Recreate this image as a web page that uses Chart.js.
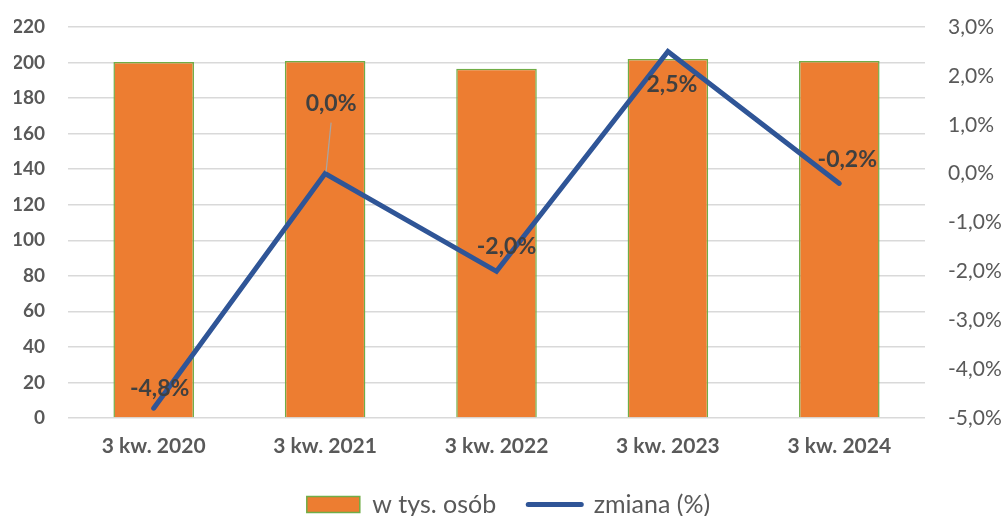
<!DOCTYPE html>
<html>
<head>
<meta charset="utf-8">
<script src="https://cdn.jsdelivr.net/npm/chart.js@4/dist/chart.umd.min.js"></script>
<style>
  html, body { margin: 0; padding: 0; background: #fff; }
  #wrap { width: 1003px; height: 516px; }
</style>
</head>
<body>
<div id="wrap"><canvas id="chart"></canvas></div>
<script>
const CATEGORIES = ['3 kw. 2020', '3 kw. 2021', '3 kw. 2022', '3 kw. 2023', '3 kw. 2024'];
const PEOPLE = [200.3, 200.9, 196.5, 202.0, 200.9];   // w tys. osób
const CHANGE = [-4.8, 0.0, -2.0, 2.5, -0.2];          // zmiana (%)

const ORANGE = '#ED7D31';
const GREEN = '#70AD47';
const BLUE = '#2F5597';
const TXT = '#595959';
const FONT = 'Lato, "Open Sans", sans-serif';

const fmtPct = (v) => v.toFixed(1).replace('.', ',') + '%';

// label placement relative to each line point (px); the second one gets a leader line
const LABEL_SHIFT = [[6, -21], [6, -71], [10, -26], [4, 32], [8, -25]];

const lineLabels = {
  id: 'lineLabels',
  afterDatasetsDraw(chart) {
    const meta = chart.getDatasetMeta(1);
    const ctx = chart.ctx;
    ctx.save();
    ctx.font = 'bold 23px ' + FONT;
    ctx.textAlign = 'center';
    ctx.textBaseline = 'middle';
    meta.data.forEach((pt, i) => {
      const [dx, dy] = LABEL_SHIFT[i];
      const x = pt.x + dx, y = pt.y + dy;
      if (Math.abs(dy) > 40) {
        ctx.strokeStyle = '#A6A6A6';
        ctx.lineWidth = 1.2;
        ctx.beginPath();
        ctx.moveTo(x, y + 20);
        ctx.lineTo(pt.x + 1, pt.y - 2);
        ctx.stroke();
      }
      ctx.fillStyle = '#404040';
      ctx.fillText(fmtPct(CHANGE[i]), x, y + 1);
    });
    ctx.restore();
  },
};

// invisible tick marks just to push labels away from the plot
const hiddenTicks = { drawTicks: true, tickLength: 23, tickColor: 'rgba(0,0,0,0)' };

new Chart(document.getElementById('chart').getContext('2d'), {
  type: 'bar',
  data: {
    labels: CATEGORIES,
    datasets: [
      {
        label: 'w tys. osób',
        data: PEOPLE,
        backgroundColor: ORANGE,
        borderColor: GREEN,
        borderWidth: 1.5,
        barPercentage: 0.47,
        categoryPercentage: 1,
        yAxisID: 'y',
        order: 2,
      },
      {
        type: 'line',
        label: 'zmiana (%)',
        data: CHANGE,
        borderColor: BLUE,
        backgroundColor: BLUE,
        borderWidth: 5,
        borderCapStyle: 'round',
        borderJoinStyle: 'miter',
        pointRadius: 0,
        tension: 0,
        yAxisID: 'y1',
        order: 1,
      },
    ],
  },
  options: {
    responsive: true,
    maintainAspectRatio: false,
    animation: false,
    layout: { padding: { top: 27, left: 14, right: 0, bottom: -11 } },
    plugins: {
      tooltip: { enabled: false },
      legend: {
        display: true,
        position: 'bottom',
        labels: {
          color: TXT,
          font: { family: FONT, size: 25 },
          usePointStyle: true,
          pointStyleWidth: 53,
          boxHeight: 16,
          padding: 32,
          generateLabels(chart) {
            const items = Chart.defaults.plugins.legend.labels.generateLabels(chart);
            items.sort((a, b) => a.datasetIndex - b.datasetIndex);
            items.forEach((it) => {
              if (it.datasetIndex === 0) {
                it.pointStyle = 'rect';
                it.lineWidth = 1.5;
              } else {
                it.pointStyle = 'line';
                it.lineWidth = 5;
                it.lineCap = 'round';
              }
            });
            return items;
          },
        },
      },
    },
    scales: {
      x: {
        grid: { display: false, drawTicks: false },
        border: { display: false },
        ticks: { color: TXT, font: { family: FONT, size: 21, weight: 'bold' }, padding: 16 },
        afterFit(s) { s.height = 42; },
      },
      y: {
        position: 'left',
        min: 0,
        max: 220,
        grid: { color: '#D9D9D9', lineWidth: 1.5, ...hiddenTicks },
        border: { display: false },
        ticks: { stepSize: 20, color: TXT, font: { family: FONT, size: 19, weight: 'bold' }, padding: 0 },
        afterFit(s) { s.width = 54; },
      },
      y1: {
        position: 'right',
        min: -5,
        max: 3,
        grid: { display: false, ...hiddenTicks },
        border: { display: false },
        ticks: { stepSize: 1, color: TXT, font: { family: FONT, size: 21 }, padding: 0, callback: (v) => fmtPct(v) },
        afterFit(s) { s.width = 78; },
      },
    },
  },
  plugins: [lineLabels],
});
</script>
</body>
</html>
